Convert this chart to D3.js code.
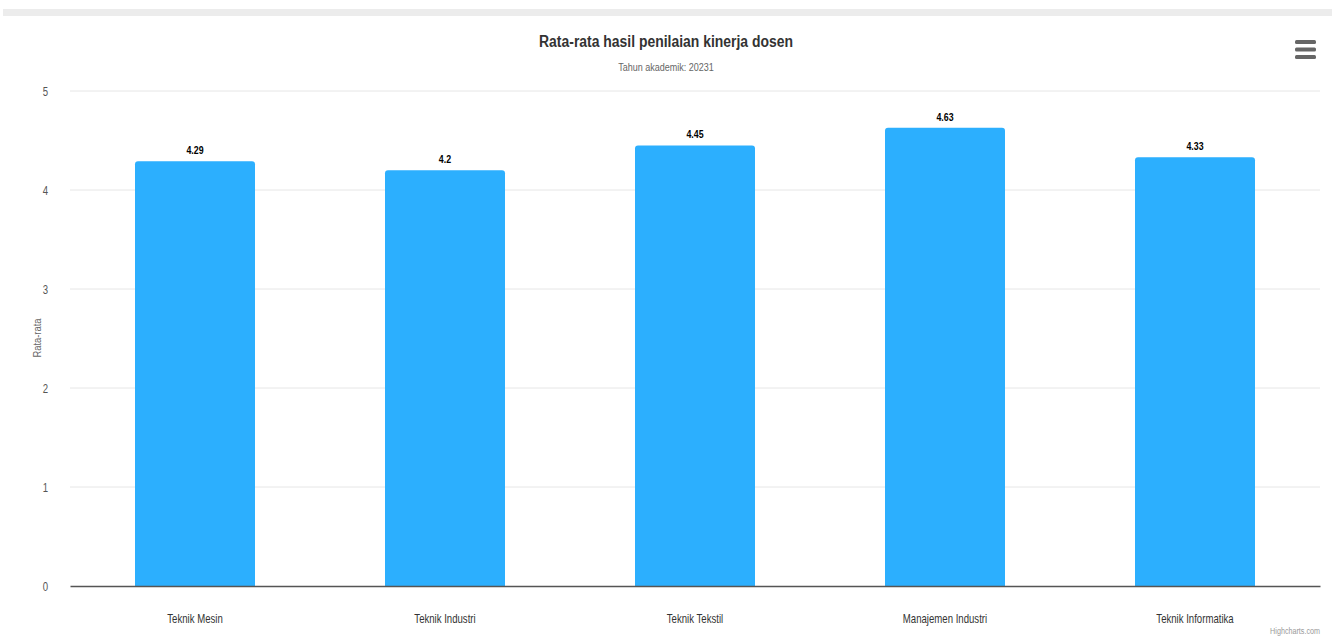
<!DOCTYPE html>
<html>
<head>
<meta charset="utf-8">
<script src="https://cdn.jsdelivr.net/npm/d3@7"></script>
<style>
	body{ margin:0; background:#fff; }
	svg text{ font-family:"Liberation Sans", Arial, sans-serif; }
</style>
</head>
<body>
<svg id="chart" width="1332" height="640"></svg>
<script>
// data
var categories = ["Teknik Mesin", "Teknik Industri", "Teknik Tekstil", "Manajemen Industri", "Teknik Informatika"];
var values = [4.29, 4.2, 4.45, 4.63, 4.33];
var yTicks = [0, 1, 2, 3, 4, 5];

var svg = d3.select('#chart');
var W = 1332, H = 640;
var m = {top: 91, right: 12, bottom: 54, left: 70};

// top gray band
svg.append('rect').attr('x', 3).attr('y', 9).attr('width', W - 3).attr('height', 7).attr('fill', '#ececec');

var x = d3.scaleBand().domain(categories).range([m.left, W - m.right]).paddingInner(0.52).paddingOuter(0.26);
var y = d3.scaleLinear().domain([0, 5]).range([H - m.bottom, m.top]);

// condensed text helper
function squeeze(sel, sx){
	sel.each(function(){
		var t = d3.select(this);
		var tx = +t.attr('x') || 0, ty = +t.attr('y') || 0;
		t.attr('transform', 'translate(' + tx + ',' + ty + ') scale(' + sx + ',1) translate(' + (-tx) + ',' + (-ty) + ')');
	});
	return sel;
}

// grid
svg.append('g').selectAll('line')
	.data(yTicks.slice(1))
	.enter().append('line')
	.attr('x1', m.left).attr('x2', W - m.right)
	.attr('y1', function(d){ return y(d); }).attr('y2', function(d){ return y(d); })
	.attr('stroke', '#e6e6e6').attr('stroke-width', 1);

// y labels
svg.append('g').selectAll('text')
	.data(yTicks)
	.enter().append('text')
	.attr('x', 48).attr('y', function(d){ return y(d) + 5; })
	.attr('text-anchor', 'end').attr('font-size', 12).attr('fill', '#555')
	.text(function(d){ return d; })
	.call(squeeze, 0.8);

// bars
svg.append('g').selectAll('path')
	.data(values)
	.enter().append('path')
	.attr('fill', '#2caffe')
	.attr('d', function(d, i){
		var x0 = x(categories[i]), w = x.bandwidth(), y0 = y(d), y1 = y(0), r = 3;
		return 'M' + x0 + ',' + y1 + 'V' + (y0 + r) + 'Q' + x0 + ',' + y0 + ' ' + (x0 + r) + ',' + y0 +
			'H' + (x0 + w - r) + 'Q' + (x0 + w) + ',' + y0 + ' ' + (x0 + w) + ',' + (y0 + r) + 'V' + y1 + 'Z';
	});

// data labels
svg.append('g').selectAll('text')
	.data(values)
	.enter().append('text')
	.attr('x', function(d, i){ return x(categories[i]) + x.bandwidth() / 2; })
	.attr('y', function(d){ return y(d) - 7; })
	.attr('text-anchor', 'middle').attr('font-size', 11).attr('font-weight', 'bold').attr('fill', '#000')
	.attr('stroke', '#fff').attr('stroke-width', 2).attr('paint-order', 'stroke')
	.text(function(d){ return d; })
	.call(squeeze, 0.8);

// x axis
var xAxis = svg.append('g').attr('transform', 'translate(0,' + y(0) + ')')
	.call(d3.axisBottom(x).tickSize(0).tickPadding(28));
xAxis.select('.domain').attr('stroke', '#555').attr('stroke-width', 1.6);
xAxis.selectAll('text')
	.attr('font-size', 12).attr('fill', '#333')
	.style('font-family', '"Liberation Sans", Arial, sans-serif')
	.call(squeeze, 0.8);

// y title
svg.append('text')
	.attr('transform', 'translate(41,338) rotate(-90) scale(0.85,1)')
	.attr('text-anchor', 'middle').attr('font-size', 11).attr('fill', '#666')
	.text('Rata-rata');

// title and subtitle
svg.append('text')
	.attr('x', W / 2).attr('y', 47)
	.attr('text-anchor', 'middle').attr('font-size', 17).attr('font-weight', 'bold').attr('fill', '#333')
	.text('Rata-rata hasil penilaian kinerja dosen')
	.call(squeeze, 0.82);
svg.append('text')
	.attr('x', W / 2).attr('y', 71)
	.attr('text-anchor', 'middle').attr('font-size', 11).attr('fill', '#666')
	.text('Tahun akademik: 20231')
	.call(squeeze, 0.82);

// menu icon
svg.append('g').selectAll('rect')
	.data([0, 1, 2])
	.enter().append('rect')
	.attr('x', 1295).attr('y', function(d){ return 40 + d * 7.5; })
	.attr('width', 21).attr('height', 4).attr('rx', 1.5)
	.attr('fill', '#666');

// credits
svg.append('text')
	.attr('x', 1320).attr('y', 634)
	.attr('text-anchor', 'end').attr('font-size', 9).attr('fill', '#999')
	.text('Highcharts.com')
	.call(squeeze, 0.8);
</script>
</body>
</html>
